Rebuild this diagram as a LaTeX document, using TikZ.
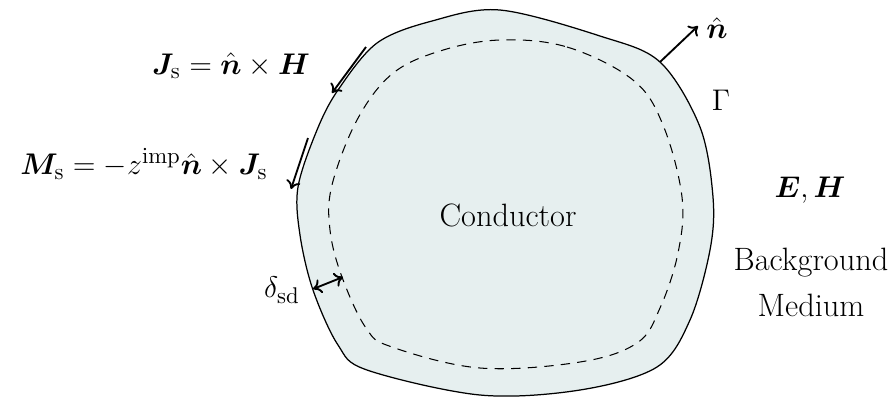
\documentclass[tikz,border=0pt]{standalone}
\usepackage{amsmath,bm}
\usetikzlibrary{arrows.meta}
\definecolor{condfill}{RGB}{230,239,239}
\tikzset{
  lbl/.style={font=\fontsize{15.6}{18}\selectfont, inner sep=1pt},
  arr/.style={line width=0.9pt, -{To[length=4pt,width=7pt]}},
  darr/.style={line width=0.9pt, {To[length=4pt,width=7pt]}-{To[length=4pt,width=7pt]}},
  outline/.style={draw=black, line width=0.6pt, fill=condfill},
  inner/.style={draw=black, line width=0.5pt, dash pattern=on 4.5pt off 3.5pt}
}
\begin{document}
\begin{tikzpicture}[x=0.01696cm, y=-0.01696cm]
\useasboundingbox (0,0) rectangle (896,396);
% conductor outline
\draw[outline] plot[smooth cycle, tension=0.55] coordinates {
 (500,10) (600,36) (660,62) (700,127) (713,197) (710,250) (690,320) (657,367)
 (580,390) (480,395) (367,370) (338,345) (313,290) (300,235) (298,187) (317,130)
 (338,90) (377,43) (432,21)};
% skin depth boundary
\draw[inner] plot[smooth cycle, tension=0.6] coordinates {
 (500,40) (567,47) (633,80) (663,125) (682,197) (678,253) (660,308) (637,343)
 (580,362) (480,368) (392,347) (366,328) (342,277) (330,230) (332,185) (357,120)
 (392,74) (440,51)};
% labels
\node[lbl] (cond) at (508,215) {Conductor};
\node[lbl] (gam) at (721,100) {$\Gamma$};
\node[lbl] (nhat) at (717,28) {$\hat{\bm n}$};
\node[lbl] (eh) at (810,190) {$\bm E, \bm H$};
\node[lbl] (bg) at (811,263) {Background};
\node[lbl] (med) at (811,305) {Medium};
\node[lbl] (js) at (231,66) {$\bm J_{\mathrm{s}} = \hat{\bm n}\times \bm H$};
\node[lbl] (ms) at (144,164) {$\bm M_{\mathrm{s}} = -z^{\mathrm{imp}}\hat{\bm n}\times \bm J_{\mathrm{s}}$};
\node[lbl] (dsd) at (282,290) {$\delta_{\mathrm{sd}}$};
% arrows
\coordinate (nA) at (660,62);
\coordinate (nB) at (698,26);
\draw[arr] (nA) -- (nB);
\coordinate (jA) at (366,47);
\coordinate (jB) at (332,93);
\draw[arr] (jA) -- (jB);
\coordinate (mA) at (308,138);
\coordinate (mB) at (291,189);
\draw[arr] (mA) -- (mB);
\coordinate (dA) at (313,289);
\coordinate (dB) at (343,277);
\draw[darr] (dA) -- (dB);
\end{tikzpicture}
\end{document}
